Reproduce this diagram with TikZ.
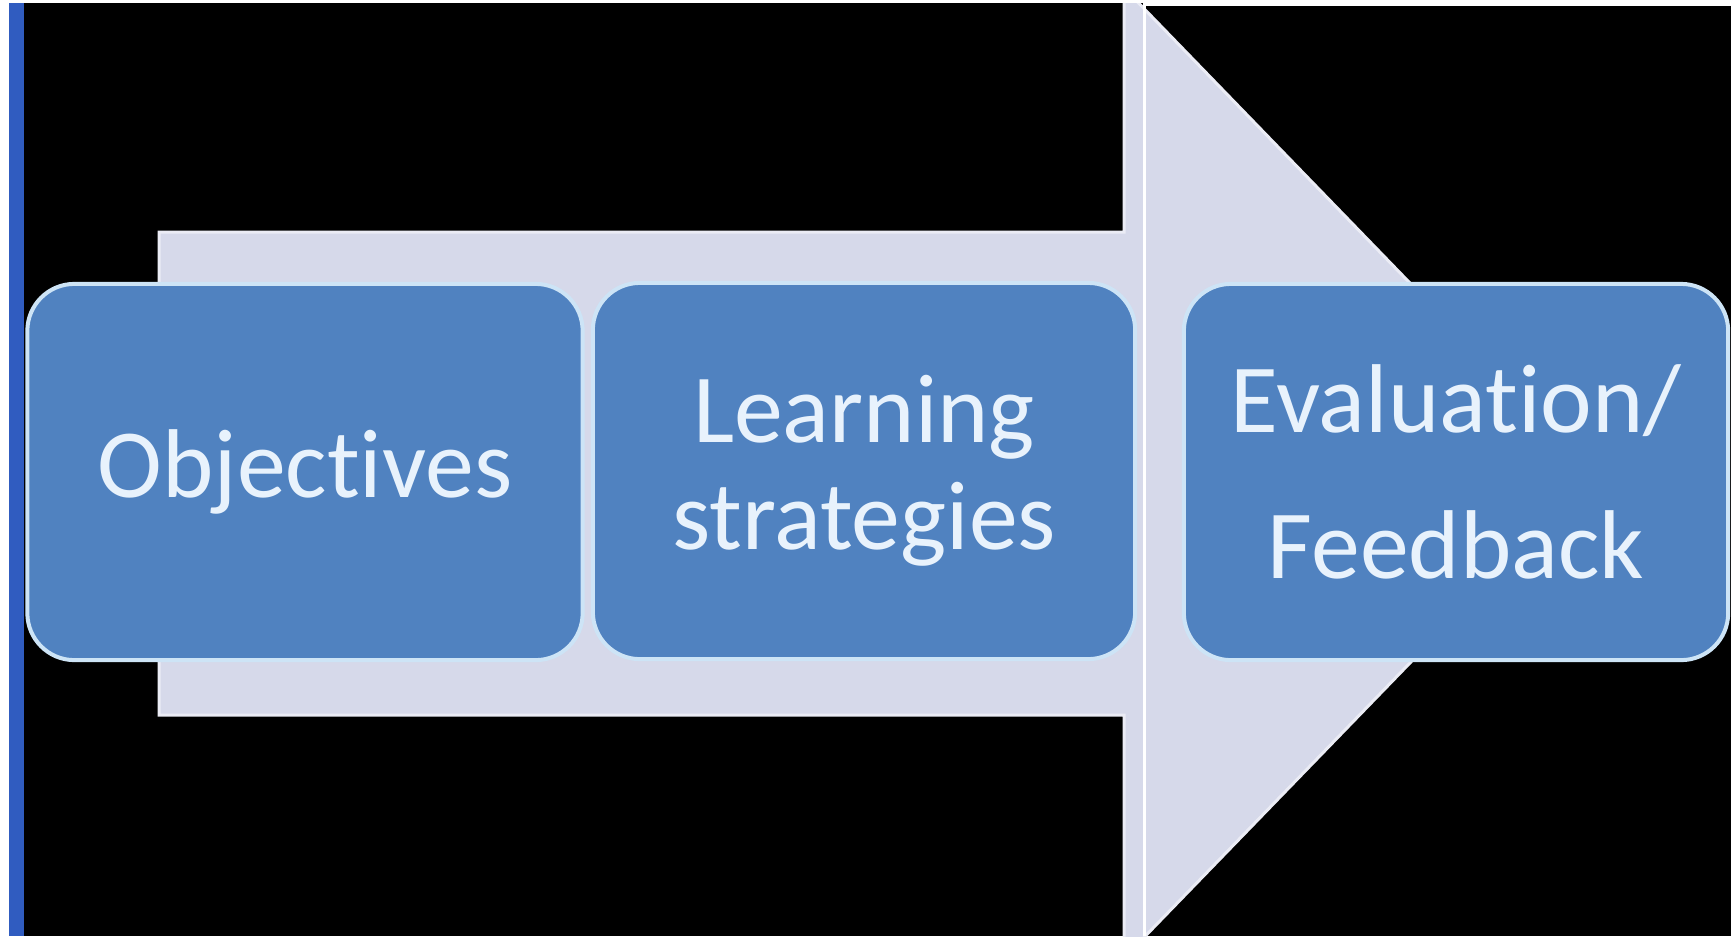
\documentclass[tikz,border=0pt]{standalone}
\usepackage{fontspec}
\setmainfont[Ligatures=NoCommon]{Carlito}
\definecolor{boxblue}{RGB}{80,130,192}
\definecolor{rimblue}{RGB}{205,228,246}
\definecolor{bandgrey}{RGB}{214,217,234}
\definecolor{stripblue}{RGB}{48,92,192}
\definecolor{textwhite}{RGB}{232,242,252}

\begin{document}
\begin{tikzpicture}[x=0.01cm, y=-0.01cm,
        stage/.style={draw=rimblue, line width=0.04cm, fill=boxblue,
          rounded corners=0.47cm, text=textwhite, align=center,
          minimum height=3.76cm, font=\fontsize{27.8}{30.5}\selectfont}]
        \useasboundingbox (0,0) rectangle (1731,936);
        \fill[white] (0,0) rectangle (1731,936);
        \fill[black] (9,3) rectangle (1731,936);
        \fill[stripblue] (9,3) rectangle (24,936);
        % big arrow behind the boxes
        \begin{scope}
        \clip (24,3) rectangle (1731,936);
        \draw[bandgrey!50!white, line width=0.03cm, fill=bandgrey] (159,232) -- (1124,232)
          -- (1124,-12) -- (1594,473) -- (1124,958) -- (1124,715) -- (159,715) -- cycle;
        \end{scope}
        \fill[white] (1143,0) rectangle (1146,936);
        \fill[white] (1146,0) rectangle (1731,6);
        \node[stage, minimum width=5.55cm] (obj) at (305,472) {Objectives};
        \node[stage, minimum width=5.42cm] (learn) at (864,471) {Learning\\strategies};
        \node[stage, minimum width=5.44cm] (eval) at (1456,472) {Evaluation/\\[0.38cm]Feedback};
    \end{tikzpicture}
\end{document}
